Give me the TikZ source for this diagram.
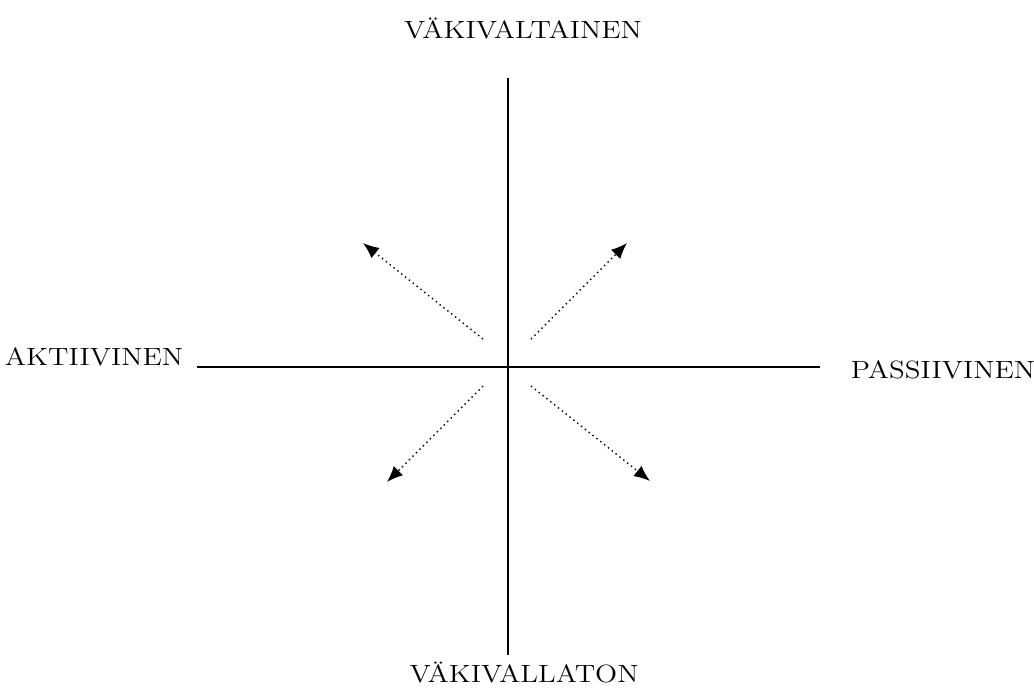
\documentclass[tikz,border=0pt]{standalone}
\usepackage{tikz}
\usetikzlibrary{arrows.meta}

\newcommand{\widecaps}[1]{\scalebox{1.16}[1]{#1}}

\begin{document}
\begin{tikzpicture}[
  x=0.02cm,y=-0.02cm,
  pole/.style={font=\fontsize{14.2}{17}\selectfont,inner sep=0pt},
  axis/.style={line width=1.1pt},
  drift/.style={-{Latex[length=3.2mm,width=2.6mm]},dotted,line width=0.8pt}
]
  \useasboundingbox (0,0) rectangle (1034,687);

  % axes
  \coordinate (top) at (508,78);
  \coordinate (bottom) at (508,655);
  \coordinate (left) at (197,367);
  \coordinate (right) at (820,367);
  \draw[axis] (top) -- (bottom);
  \draw[axis] (left) -- (right);

  % labels
  \node[pole] (violent) at (523,29) {\widecaps{VÄKIVALTAINEN}};
  \node[pole] (nonviolent) at (524,673) {\widecaps{VÄKIVALLATON}};
  \node[pole] (active) at (94,357) {\widecaps{AKTIIVINEN}};
  \node[pole] (passive) at (943,370) {\widecaps{PASSIIVINEN}};

  % arrows
  \coordinate (ul0) at (483,339);
  \coordinate (ul1) at (363,243);
  \coordinate (ur0) at (531,339);
  \coordinate (ur1) at (627,243);
  \coordinate (ll0) at (483,386);
  \coordinate (ll1) at (387,482);
  \coordinate (lr0) at (531,386);
  \coordinate (lr1) at (650,481);
  \draw[drift] (ul0) -- (ul1);
  \draw[drift] (ur0) -- (ur1);
  \draw[drift] (ll0) -- (ll1);
  \draw[drift] (lr0) -- (lr1);
\end{tikzpicture}
\end{document}
